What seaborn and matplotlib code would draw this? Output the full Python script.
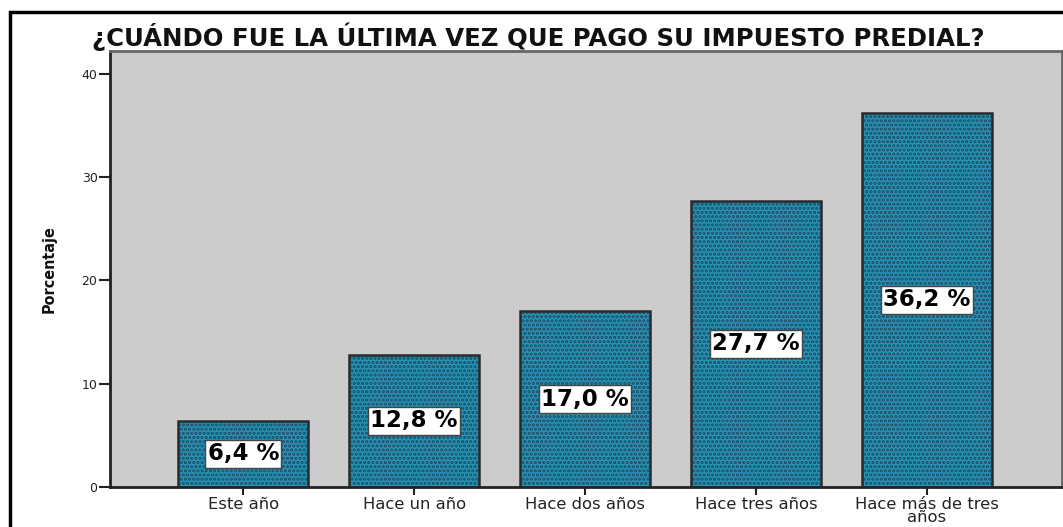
import matplotlib
matplotlib.use("Agg")
import matplotlib.pyplot as plt
import seaborn as sns
import pandas as pd
from matplotlib.patches import Rectangle

categories = ["Este año", "Hace un año", "Hace dos años", "Hace tres años", "Hace más de tres\naños"]
values = [6.4, 12.8, 17.0, 27.7, 36.2]
labels = ["6,4 %", "12,8 %", "17,0 %", "27,7 %", "36,2 %"]
yticks = [0, 10, 20, 30, 40]
title = "¿CUÁNDO FUE LA ÚLTIMA VEZ QUE PAGO SU IMPUESTO PREDIAL?"
ylabel = "Porcentaje"

sns.set_style("white")
plt.rcParams["font.family"] = ["DejaVu Sans"]
plt.rcParams["hatch.linewidth"] = 1.6

df = pd.DataFrame({"cat": categories, "val": values})

fig = plt.figure(figsize=(10.63, 5.27), dpi=100)
ax = fig.add_axes([110 / 1063, 40 / 527, 952 / 1063, 436 / 527])
ax.set_facecolor("#cccccc")

sns.barplot(data=df, x="cat", y="val", ax=ax, color="#2894b4", width=0.76,
            saturation=1, edgecolor="#1c4a66", linewidth=0, hatch="....")
for p in ax.patches:
    ax.add_patch(Rectangle(p.get_xy(), p.get_width(), p.get_height(),
                           fill=False, edgecolor="#2a2a2a", linewidth=1.8, zorder=3))

for i, (v, lab) in enumerate(zip(values, labels)):
    ax.text(i, v / 2, lab, ha="center", va="center", fontsize=16.5, fontweight="bold",
            color="black", zorder=5,
            bbox=dict(boxstyle="square,pad=0.1", facecolor="white", edgecolor="#444444", linewidth=1))

ax.set_xlim(-0.78, 4.79)
ax.set_ylim(0, 42.2)
ax.set_yticks(yticks)
ax.set_yticklabels([str(t) for t in yticks], fontsize=9, color="#222222")
ax.tick_params(axis="y", direction="out", length=8, width=1.5, color="#222222", left=True, pad=1)
ax.tick_params(axis="x", direction="out", length=6, width=1.5, color="#222222", bottom=True,
               labelsize=11.8, pad=1.5, labelcolor="#222222")
ax.set_xlabel("")
ax.set_ylabel(ylabel, fontsize=11.5, fontweight="bold", fontstretch="condensed", labelpad=18,
              color="#111111")
for lab in ax.get_xticklabels():
    lab.set_linespacing(0.8)

for s in ["left", "bottom"]:
    ax.spines[s].set_color("#222222")
    ax.spines[s].set_linewidth(2)
for s in ["top", "right"]:
    ax.spines[s].set_color("#666666")
    ax.spines[s].set_linewidth(2)

fig.text(92 / 1063, 1 - 37 / 527, title, fontsize=17.6, fontweight="bold", ha="left", va="center",
         color="#111111")

fig.add_artist(Rectangle((10 / 1063, -0.1), 1.2, 1 - 12 / 527 + 0.1, transform=fig.transFigure,
                         fill=False, edgecolor="black", linewidth=2.5))

fig.savefig("out.png", dpi=100)
